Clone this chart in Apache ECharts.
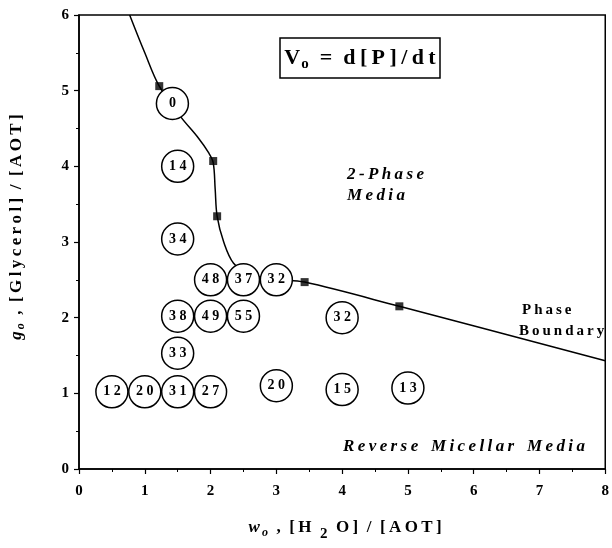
<!DOCTYPE html>
<html>
<head>
<meta charset="utf-8">
<script src="https://cdn.jsdelivr.net/npm/echarts@6/dist/echarts.min.js"></script>
<style>html,body{margin:0;padding:0;background:#fff}#c{width:612px;height:548px}</style>
</head>
<body>
<div id="c"></div>
<script>
// Phase boundary curve
const boundaryCurve = [[0.77,6.0],[1.0,5.5],[1.22,5.06],[1.55,4.65],[1.8,4.39],[1.97,4.18],[2.04,4.05],[2.07,3.7],[2.1,3.34],[2.2,3.0],[2.35,2.72],[2.6,2.57],[3.0,2.51],[3.43,2.47],[4.87,2.15],[8.0,1.43]];
// Measured boundary points (squares)
const boundaryPoints = [[1.22,5.06],[2.04,4.07],[2.1,3.34],[3.43,2.47],[4.87,2.15]];
// Rate values V_o at (w_o, g_o)
const wo = [1.42,1.5,1.5,2.0,2.5,3.0,1.5,2.0,2.5,4.0,1.5,0.5,1.0,1.5,2.0,3.0,4.0,5.0];
const go = [4.83,4.0,3.04,2.5,2.5,2.5,2.02,2.02,2.02,2.0,1.53,1.02,1.02,1.02,1.02,1.1,1.05,1.07];
const rates = [0,14,34,48,37,32,38,49,55,32,33,12,20,31,27,20,15,13];

const serif = '"Liberation Serif","DejaVu Serif",serif';
const sp = s => s.split('').join('\u2009');
const chart = echarts.init(document.getElementById('c'));
const circleData = rates.map((r,i)=>[wo[i],go[i],r]);
chart.setOption({
  animation:false,
  backgroundColor:'#fff',
  grid:{left:77,right:3,top:15,bottom:79,show:true,borderColor:'#000',borderWidth:1.5,backgroundColor:'transparent'},
  xAxis:{type:'value',min:0,max:8,interval:1,
    axisLine:{show:true,onZero:false,lineStyle:{color:'#000',width:1.5}},
    axisTick:{show:true,inside:false,length:5,lineStyle:{color:'#000',width:1.2}},
    minorTick:{show:true,splitNumber:2,length:3,lineStyle:{color:'#000'}},
    splitLine:{show:false},
    axisLabel:{color:'#000',fontFamily:serif,fontWeight:'bold',fontSize:15,margin:15},
    name:'{i|w}{sub|o}{t|  ,  '+sp('[H')+'  }{sub2|2}{t|  '+sp('O]')+'  /  '+sp('[AOT]')+'}',
    nameLocation:'middle',nameGap:45,
    nameTextStyle:{rich:{
      i:{fontFamily:serif,fontStyle:'italic',fontWeight:'bold',fontSize:17,color:'#000',padding:[0,0,0,6]},
      sub:{fontFamily:serif,fontStyle:'italic',fontWeight:'bold',fontSize:12,color:'#000',padding:[9,0,0,2]},
      sub2:{fontFamily:serif,fontWeight:'bold',fontSize:15,color:'#000',padding:[13,0,0,0]},
      t:{fontFamily:serif,fontWeight:'bold',fontSize:17,color:'#000'}
    }}
  },
  yAxis:{type:'value',min:0,max:6,interval:1,
    axisLine:{show:true,onZero:false,lineStyle:{color:'#000',width:1.5}},
    axisTick:{show:true,inside:false,length:5,lineStyle:{color:'#000',width:1.2}},
    minorTick:{show:true,splitNumber:2,length:3,lineStyle:{color:'#000'}},
    splitLine:{show:false},
    axisLabel:{color:'#000',fontFamily:serif,fontWeight:'bold',fontSize:15,margin:10},
    name:'{i|g}{sub|o}{t|  ,  '+sp('[Glycerol]')+'  /  '+sp('[AOT]')+'}',
    nameLocation:'middle',nameGap:52,
    nameTextStyle:{rich:{
      i:{fontFamily:serif,fontStyle:'italic',fontWeight:'bold',fontSize:17,color:'#000',padding:[0,0,0,30]},
      sub:{fontFamily:serif,fontStyle:'italic',fontWeight:'bold',fontSize:12,color:'#000',padding:[9,0,0,2]},
      t:{fontFamily:serif,fontWeight:'bold',fontSize:17,color:'#000'}
    }}
  },
  series:[
    {type:'line',data:boundaryCurve,smooth:0.35,showSymbol:false,symbol:'none',
      lineStyle:{color:'#000',width:1.5},z:1,silent:true},
    {type:'scatter',data:boundaryPoints,symbol:'rect',symbolSize:8,
      itemStyle:{color:'#000'},z:2,silent:true},
    {type:'scatter',data:circleData,symbol:'circle',symbolSize:32,z:3,
      itemStyle:{color:'#fff',borderColor:'#000',borderWidth:1.5,opacity:1},
      label:{show:true,position:'inside',formatter:p=>String(p.value[2]).split('').join(' '),
        fontFamily:serif,fontWeight:'bold',fontSize:14,color:'#000'}}
  ],
  graphic:[
    {type:'rect',shape:{x:280,y:38,width:160,height:40},style:{fill:'#fff',stroke:'#000',lineWidth:1.5},z:10},
    {type:'text',x:360,y:58,z:11,style:{text:'{v|V}{s|o}{t|  =  '+sp('d[P]/dt')+'}',align:'center',verticalAlign:'middle',
      rich:{v:{fontFamily:serif,fontWeight:'bold',fontSize:22,fill:'#000'},
            s:{fontFamily:serif,fontWeight:'bold',fontSize:15,fill:'#000',padding:[12,0,0,1]},
            t:{fontFamily:serif,fontWeight:'bold',fontSize:22,fill:'#000'}}}},
    {type:'text',x:347,y:164,z:11,style:{text:sp('2-Phase')+'\n'+sp('Media'),font:'italic bold 17px '+serif,fill:'#000',lineHeight:21,align:'left'}},
    {type:'text',x:522,y:303,z:11,style:{text:sp('Phase'),font:'bold 15px '+serif,fill:'#000',align:'left'}},
    {type:'text',x:519,y:324,z:11,style:{text:sp('Boundary'),font:'bold 15px '+serif,fill:'#000',align:'left'}},
    {type:'text',x:343,y:438,z:11,style:{text:sp('Reverse')+'   '+sp('Micellar')+'   '+sp('Media'),font:'italic bold 17px '+serif,fill:'#000',align:'left'}}
  ]
});
</script>
</body>
</html>
